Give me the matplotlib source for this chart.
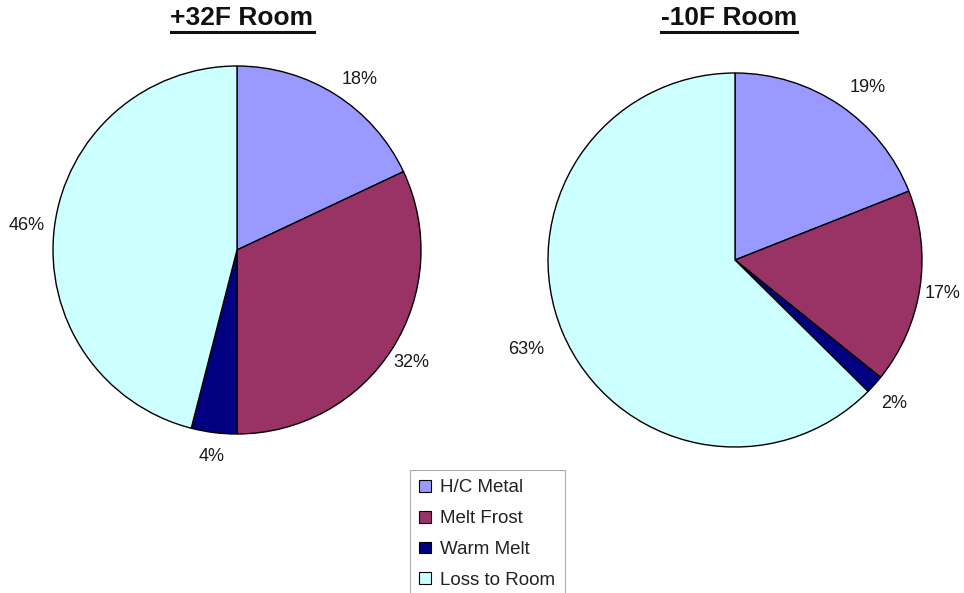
import numpy as np
import matplotlib
matplotlib.use("Agg")
import matplotlib.pyplot as plt
from matplotlib.lines import Line2D
from matplotlib.patches import Patch

plt.rcParams['font.family'] = ['Liberation Sans', 'DejaVu Sans']

categories = ["H/C Metal", "Melt Frost", "Warm Melt", "Loss to Room"]
colors = ["#9999FF", "#993366", "#000080", "#CCFFFF"]

titles = ["+32F Room", "-10F Room"]
values_32 = [18.0, 32.0, 4.0, 46.0]
values_m10 = [19.0, 16.8, 1.6, 62.6]
labels_32 = ["18%", "32%", "4%", "46%"]
labels_m10 = ["19%", "17%", "2%", "63%"]

W, H = 964, 593
fig = plt.figure(figsize=(W / 100, H / 100), dpi=100)

# (center x px, center y px from top, radius px)
pie_geom = [(237, 250, 184), (735, 260, 187)]
label_dist = [[1.15, 1.12, 1.12, 1.15], [1.17, 1.12, 1.14, 1.21]]
label_shift = [[3.0, 0, 0, 0], [3.0, 0, 0, 0]]  # extra angular shift (deg, clockwise)
title_x = [242, 729]

for i, (vals, labs) in enumerate([(values_32, labels_32), (values_m10, labels_m10)]):
    cx, cy, r = pie_geom[i]
    ax = fig.add_axes([(cx - r) / W, (H - cy - r) / H, 2 * r / W, 2 * r / H])
    wedges, _ = ax.pie(vals, colors=colors, startangle=90, counterclock=False,
                       wedgeprops=dict(edgecolor="black", linewidth=1.0))
    ax.set_xlim(-1, 1)
    ax.set_ylim(-1, 1)
    ax.set_aspect('auto')
    ax.axis('off')
    total = float(sum(vals))
    cum = 0.0
    for v, lab, d, s in zip(vals, labs, label_dist[i], label_shift[i]):
        mid = 90 - (cum + v / 2) / total * 360 - s
        cum += v
        x = d * np.cos(np.deg2rad(mid))
        y = d * np.sin(np.deg2rad(mid))
        ax.text(x, y, lab, ha='center', va='center_baseline', fontsize=13,
                color='#1a1a1a', clip_on=False)

# titles with underline
fig.canvas.draw()
renderer = fig.canvas.get_renderer()
for t, tx in zip(titles, title_x):
    txt = fig.text(tx / W, 1 - 18 / H, t, ha='center', va='center',
                   fontsize=19, fontweight='bold', color='#111111')
    bb = txt.get_window_extent(renderer=renderer)
    yline = 1 - 32 / H
    fig.add_artist(Line2D([bb.x0 / W, bb.x1 / W], [yline, yline],
                          transform=fig.transFigure, color='#111111', linewidth=2.2))

handles = [Patch(facecolor=c, edgecolor='black', linewidth=0.8) for c in colors]
leg = fig.legend(handles, categories, loc='upper left',
                 bbox_to_anchor=(410 / W, 1 - 470 / H), bbox_transform=fig.transFigure,
                 fontsize=13.5, frameon=True, fancybox=False, shadow=False,
                 handlelength=0.6, handleheight=0.6, handletextpad=0.5,
                 labelspacing=0.74, borderpad=0.5, borderaxespad=0.0)
leg.get_frame().set_edgecolor('#999999')
leg.get_frame().set_linewidth(0.8)
for t in leg.get_texts():
    t.set_color('#222222')

fig.savefig("out.png", dpi=100)
